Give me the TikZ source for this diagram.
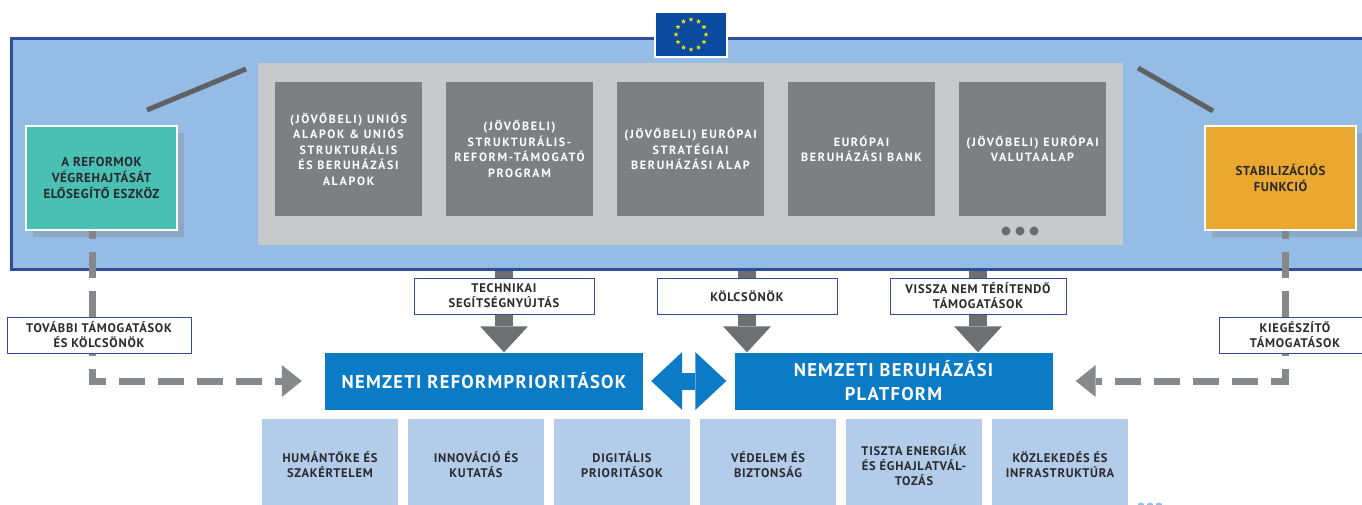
\documentclass[tikz,border=0pt]{standalone}
\usepackage{fontspec}
\setmainfont{PT Sans}
\usetikzlibrary{positioning,arrows.meta,shapes.geometric,shadows,calc}
\pgfdeclarelayer{bg}
\pgfdeclarelayer{mid}
\pgfsetlayers{bg,mid,main}

\definecolor{panelblue}{HTML}{95BCE4}
\definecolor{rimblue}{HTML}{2F4C9D}
\definecolor{framegray}{HTML}{C8C9CB}
\definecolor{fundgray}{HTML}{7E7F83}
\definecolor{beamgray}{HTML}{606165}
\definecolor{flowgray}{HTML}{6E6F73}
\definecolor{aidgray}{HTML}{87888C}
\definecolor{toolteal}{HTML}{4ABFB4}
\definecolor{toolorange}{HTML}{EBA831}
\definecolor{prioblue}{HTML}{0A7BC4}
\definecolor{fieldblue}{HTML}{B2CCEA}
\definecolor{eublue}{HTML}{0A4B9F}
\definecolor{euyellow}{HTML}{FFE600}
\definecolor{inkgray}{HTML}{2A2A2C}

\newcommand\tagfont{\fontsize{12.5}{15}\selectfont\bfseries\addfontfeature{LetterSpace=6}}
\newcommand\fundfont{\fontsize{12}{15.5}\selectfont\bfseries\addfontfeature{LetterSpace=14}}
\newcommand\toolfont{\fontsize{13}{16}\selectfont\bfseries\addfontfeature{LetterSpace=4}}
\newcommand\priofont{\fontsize{18.5}{24}\selectfont\bfseries\addfontfeature{LetterSpace=7}}

\tikzset{
  fund/.style={fill=fundgray, text=white, minimum width=147pt, minimum height=134pt, inner sep=0pt, outer sep=0pt, align=center, font=\fundfont},
  tool/.style={draw=white, line width=1.5pt, minimum width=151pt, minimum height=104pt, align=center, text=inkgray, font=\toolfont, drop shadow={shadow xshift=7pt, shadow yshift=-7pt, opacity=.3}},
  tag/.style={draw=rimblue, line width=1pt, fill=white, minimum width=180pt, minimum height=36pt, inner sep=0pt, align=center, text=inkgray, font=\tagfont},
  prio/.style={fill=prioblue, text=white, minimum width=318pt, minimum height=57pt, inner sep=0pt, align=center, font=\priofont},
  field/.style={fill=fieldblue, text=inkgray, minimum width=136pt, minimum height=92pt, inner sep=0pt, outer sep=0pt, align=center, font=\tagfont},
  flow/.style={draw=flowgray, line width=18pt, -{Triangle[width=48pt,length=26pt,line width=0pt]}},
  aid/.style={draw=aidgray, line width=7pt, dash pattern=on 26pt off 13pt, dash phase=18pt, -{Triangle[width=32pt,length=20pt,line width=0pt]}},
  swap/.style={draw=prioblue, line width=17pt, {Triangle[width=58pt,length=31pt,line width=0pt]}-{Triangle[width=58pt,length=31pt,line width=0pt]}},
  beam/.style={draw=beamgray, line width=5pt}
}

\begin{document}
\begin{tikzpicture}[x=1pt, y=-1pt]
\useasboundingbox (0,0) rectangle (1362,504);
\begin{pgfonlayer}{bg}
\node[fill=panelblue, draw=rimblue, line width=2.5pt, minimum width=1372pt, minimum height=231pt, inner sep=0pt, anchor=north west] (panel) at (10,37) {};
\end{pgfonlayer}

\node[fill=eublue, draw=white, line width=2pt, minimum width=72pt, minimum height=45pt, inner sep=0pt] (flag) at (691,34.5) {};
\foreach \a in {0,30,...,330}
  \node[star, star points=5, star point ratio=2.4, fill=euyellow, inner sep=0pt, minimum size=5pt] at ($(flag.center)+(\a:15)$) {};

\node[fill=framegray, minimum width=865pt, minimum height=182pt, inner sep=0pt, anchor=north west] (frame) at (258,63) {};
\node[fund, anchor=north west] (eufunds) at (275,82) {(JÖVŐBELI) UNIÓS\\ALAPOK \& UNIÓS\\STRUKTURÁLIS\\ÉS BERUHÁZÁSI\\ALAPOK};
\node[fund, right=24pt of eufunds] (srsp) {(JÖVŐBELI)\\STRUKTURÁLIS-\\REFORM-TÁMOGATÓ\\PROGRAM};
\node[fund, right=24pt of srsp] (efsi) {(JÖVŐBELI) EURÓPAI\\STRATÉGIAI\\BERUHÁZÁSI ALAP};
\node[fund, right=24pt of efsi] (eib) {EURÓPAI\\BERUHÁZÁSI BANK};
\node[fund, right=24pt of eib] (emf) {(JÖVŐBELI) EURÓPAI\\VALUTAALAP};
\foreach \i in {0,1,2}
  \fill[fundgray!85!black] (1006+\i*14,231) circle (4.5);

\draw[beam] (147,110) -- (246,69);
\draw[beam] (1138,68) -- (1213,111);

\node[tool, fill=toolteal] (reform) at (101.5,178) {A REFORMOK\\VÉGREHAJTÁSÁT\\ELŐSEGÍTŐ ESZKÖZ};
\node[tool, fill=toolorange] (stab) at (1280.5,178) {STABILIZÁCIÓS\\FUNKCIÓ};

\node[prio] (nrp) at (484,381) {NEMZETI REFORMPRIORITÁSOK};
\node[prio] (nbp) at (893.5,381) {NEMZETI BERUHÁZÁSI\\PLATFORM};

\node[tag] (tech) at (504,296) {TECHNIKAI\\SEGÍTSÉGNYÚJTÁS};
\node[tag] (loan) at (747,296) {KÖLCSÖNÖK};
\node[tag, minimum width=176pt] (grant) at (978,296) {VISSZA NEM TÉRÍTENDŐ\\TÁMOGATÁSOK};
\node[tag, minimum width=184pt] (extra) at (99,335) {TOVÁBBI TÁMOGATÁSOK\\ÉS KÖLCSÖNÖK};
\node[tag, minimum width=152pt] (compl) at (1295,335) {KIEGÉSZÍTŐ\\TÁMOGATÁSOK};

\node[field, anchor=north west] (human) at (262,419) {HUMÁNTŐKE ÉS\\SZAKÉRTELEM};
\node[field, right=10pt of human] (innov) {INNOVÁCIÓ ÉS\\KUTATÁS};
\node[field, right=10pt of innov] (digit) {DIGITÁLIS\\PRIORITÁSOK};
\node[field, right=10pt of digit] (safety) {VÉDELEM ÉS\\BIZTONSÁG};
\node[field, right=10pt of safety] (energy) {TISZTA ENERGIÁK\\ÉS ÉGHAJLATVÁL-\\TOZÁS};
\node[field, right=10pt of energy] (transp) {KÖZLEKEDÉS ÉS\\INFRASTRUKTÚRA};
\foreach \i in {0,1,2}
  \fill[panelblue] (1141+\i*9,506) circle (3.5);

\begin{pgfonlayer}{mid}
\draw[flow] (tech |- panel.south) -- (tech |- nrp.north);
\draw[flow] (loan |- panel.south) -- (loan |- nbp.north);
\draw[flow] (grant |- panel.south) -- (grant |- nbp.north);
\draw[aid] ([xshift=-9pt]reform.south) |- ([xshift=-23pt]nrp.west);
\draw[aid] ([xshift=4.5pt]stab.south) |- ([xshift=23pt]nbp.east);
\end{pgfonlayer}
\draw[swap] ([xshift=8pt]nrp.east) -- ([xshift=-8pt]nbp.west);
\end{tikzpicture}
\end{document}
